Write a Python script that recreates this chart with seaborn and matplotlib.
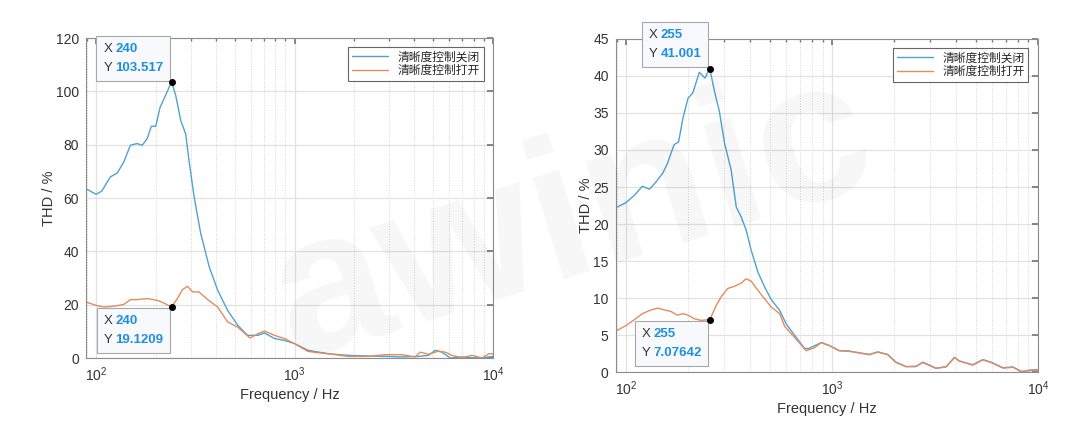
import numpy as np
import pandas as pd
import matplotlib
matplotlib.use("Agg")
import matplotlib.pyplot as plt
import seaborn as sns
from matplotlib.ticker import LogLocator, NullFormatter
from matplotlib.offsetbox import TextArea, HPacker, VPacker, AnnotationBbox


# left chart
freq_l_off = [89, 100, 107, 118, 128, 138, 149, 161, 171, 181,
              190, 200, 210, 224, 240, 252, 267, 283, 294, 312,
              337, 372, 410, 460, 517, 580, 653, 705, 792, 890,
              1000, 1167, 1475, 1860, 2350, 2900, 3470, 4205, 4730, 5110,
              5520, 6080, 6970, 7830, 8800, 10000]
thd_l_off = [63.5, 61.4, 62.6, 67.9, 69.4, 73.5, 79.8, 80.4, 79.8, 82.3,
             86.9, 86.9, 93.9, 98.5, 103.517, 98.5, 89.1, 84.0, 74.0, 60.4,
             46.6, 34.1, 25.4, 17.9, 12.3, 8.5, 8.5, 9.4, 7.3, 6.6,
             5.4, 2.9, 1.6, 1.0, 0.75, 0.6, 0.4, 0.6, 1.0, 2.9,
             2.2, 0.0, 0.4, 0.1, 0.1, 0.6]
freq_l_on = [89, 100, 109, 123, 138, 149, 161, 181, 204, 220,
             240, 257, 272, 289, 306, 330, 365, 410, 460, 517,
             597, 653, 705, 792, 890, 1000, 1167, 1475, 1860, 2350,
             2850, 3470, 4050, 4290, 4730, 5310, 5740, 6200, 6970, 7830,
             8800, 9500, 10000]
thd_l_on = [21.0, 19.75, 19.1, 19.4, 20.1, 21.9, 21.9, 22.3, 21.6, 20.6,
            19.1209, 22.3, 25.6, 26.9, 24.8, 24.8, 21.9, 19.1, 13.5, 11.6,
            7.5, 9.1, 10.1, 8.5, 7.3, 5.4, 2.5, 1.6, 0.6, 0.6,
            1.25, 1.25, 0.4, 2.2, 1.4, 2.6, 2.2, 1.0, 0.1, 1.0,
            0.0, 1.6, 1.6]

# right chart
freq_r_off = [90, 100, 110, 120, 130, 140, 151, 159, 171, 180,
              189, 200, 211, 227, 242, 255, 269, 284, 301, 324,
              343, 362, 383, 405, 437, 471, 507, 557, 600, 658,
              736, 773, 887, 970, 1085, 1215, 1360, 1520, 1670, 1865,
              2045, 2290, 2560, 2760, 3200, 3580, 3935, 4160, 4830, 5400,
              5930, 6760, 7570, 8310, 9130, 10000]
thd_r_off = [22.25, 22.9, 23.9, 25.1, 24.7, 25.7, 26.9, 28.2, 30.7, 31.1,
             34.3, 37.0, 37.7, 40.5, 39.7, 41.001, 37.9, 35.2, 30.9, 27.3,
             22.3, 21.0, 19.2, 16.5, 13.5, 11.5, 9.8, 8.35, 6.5, 5.0,
             3.2, 3.2, 4.0, 3.6, 2.9, 2.85, 2.6, 2.4, 2.7, 2.4,
             1.35, 0.75, 0.75, 1.35, 0.55, 0.7, 2.0, 1.5, 1.0, 1.7,
             1.35, 0.6, 0.7, 0.1, 0.2, 0.3]
freq_r_on = [90, 100, 110, 120, 132, 143, 154, 165, 178, 189,
             200, 215, 231, 255, 274, 290, 312, 336, 362, 383,
             405, 437, 471, 507, 557, 589, 658, 750, 824, 887,
             970, 1085, 1215, 1360, 1520, 1670, 1865, 2045, 2290, 2560,
             2760, 3200, 3580, 3935, 4160, 4830, 5400, 5930, 6760, 7570,
             8310, 9130, 10000]
thd_r_on = [5.6, 6.3, 7.1, 7.9, 8.4, 8.65, 8.4, 8.2, 7.7, 7.9,
            7.7, 7.2, 7.0, 7.07642, 9.0, 10.2, 11.3, 11.6, 12.0, 12.6,
            12.3, 11.05, 9.9, 8.8, 7.9, 6.2, 4.7, 2.9, 3.3, 4.0,
            3.6, 2.9, 2.8, 2.6, 2.35, 2.75, 2.35, 1.3, 0.75, 0.8,
            1.3, 0.5, 0.75, 1.95, 1.5, 0.95, 1.65, 1.3, 0.55, 0.65,
            0.05, 0.3, 0.35]

labels = ["清晰度控制关闭", "清晰度控制打开"]
tips_left = [("240", "103.517", 240, 103.517, "top"), ("240", "19.1209", 240, 19.1209, "bottom")]
tips_right = [("255", "41.001", 255, 41.001, "top"), ("255", "7.07642", 255, 7.07642, "bottom")]

sns.set_theme(style="white")
plt.rcParams['font.family'] = ['Liberation Sans', 'Noto Sans CJK SC', 'DejaVu Sans']
plt.rcParams['axes.unicode_minus'] = False

colors = {labels[0]: "#4fa3cf", labels[1]: "#e38c5f"}
tip_blue = "#1f8fe0"


def make_df(f_off, t_off, f_on, t_on):
    a = pd.DataFrame({"freq": f_off, "thd": t_off, "series": labels[0]})
    b = pd.DataFrame({"freq": f_on, "thd": t_on, "series": labels[1]})
    return pd.concat([a, b], ignore_index=True)


def add_tip(ax, xs, ys, x, y, where):
    tp = dict(color="#333333", fontsize=9.5)
    vp = dict(color=tip_blue, fontsize=9.5, fontweight="bold")
    row1 = HPacker(children=[TextArea("X", textprops=tp), TextArea(xs, textprops=vp)], sep=2, pad=0)
    row2 = HPacker(children=[TextArea("Y", textprops=tp), TextArea(ys, textprops=vp)], sep=2, pad=0)
    box = VPacker(children=[row1, row2], align="left", sep=5, pad=0)
    pad_frac, fs = 0.5, 10
    d = pad_frac * fs + 1.0
    if where == "top":
        align, off = (1, 0), (-d, d)
    else:
        align, off = (1, 1), (-d, -d)
    ab = AnnotationBbox(box, (x, y), xybox=off, boxcoords="offset points",
                        box_alignment=align, frameon=True, pad=pad_frac, fontsize=fs,
                        annotation_clip=False,
                        bboxprops=dict(facecolor="#f7f9fc", edgecolor="#a8a8a8", lw=0.8))
    ab.set_zorder(6)
    ax.add_artist(ab)
    ax.plot([x], [y], "o", color="black", ms=4, zorder=7, clip_on=False)


def style_axes(ax, ymax, ystep):
    ax.set_xscale("log")
    ax.set_xlim(89, 10000)
    ax.set_ylim(0, ymax)
    ax.set_yticks(np.arange(0, ymax + 0.1, ystep))
    ax.xaxis.set_major_locator(LogLocator(base=10))
    ax.xaxis.set_minor_locator(LogLocator(base=10, subs=range(2, 10)))
    ax.xaxis.set_minor_formatter(NullFormatter())
    ax.grid(True, which="major", color="#e2e2e2", lw=0.9, ls="-")
    ax.grid(True, which="minor", axis="x", color="#d4d4d4", lw=0.7, ls=":")
    ax.set_axisbelow(True)
    for s in ax.spines.values():
        s.set_visible(True)
        s.set_color("#8c8c8c")
        s.set_linewidth(0.8)
    ax.tick_params(which="both", direction="in", top=True, right=True,
                   color="#777777", labelcolor="#333333", labelsize=10)
    ax.tick_params(which="major", length=4, pad=5)
    ax.tick_params(which="minor", length=2.5)
    ax.set_xlabel("Frequency / Hz", fontsize=10.5, color="#333333", labelpad=3)
    ax.set_ylabel("THD / %", fontsize=10.5, color="#333333", labelpad=0)
    leg = ax.legend(loc="upper right", fontsize=8.5, frameon=True, fancybox=False,
                    framealpha=1, edgecolor="#666666", borderaxespad=0.8,
                    handlelength=3.0, labelspacing=0.15, borderpad=0.35)
    leg.get_frame().set_linewidth(0.8)


fig = plt.figure(figsize=(10.8, 4.42), dpi=100)
ax1 = fig.add_axes([0.0796, 0.19, 0.377, 0.724])
ax2 = fig.add_axes([0.570, 0.158, 0.391, 0.754])

df_l = make_df(freq_l_off, thd_l_off, freq_l_on, thd_l_on)
df_r = make_df(freq_r_off, thd_r_off, freq_r_on, thd_r_on)

for ax, df, ymax, ystep, tips in [(ax1, df_l, 120, 20, tips_left), (ax2, df_r, 45, 5, tips_right)]:
    sns.lineplot(data=df, x="freq", y="thd", hue="series", hue_order=labels,
                 palette=colors, lw=1.0, ax=ax, estimator=None, sort=True)
    style_axes(ax, ymax, ystep)
    for xs, ys, x, y, where in tips:
        add_tip(ax, xs, ys, x, y, where)

# faint watermark
fig.text(0.53, 0.50, "awinic", fontsize=145, fontweight="bold", rotation=17,
         color="#000000", alpha=0.035, ha="center", va="center", zorder=10)

fig.savefig("out.png", dpi=100)
